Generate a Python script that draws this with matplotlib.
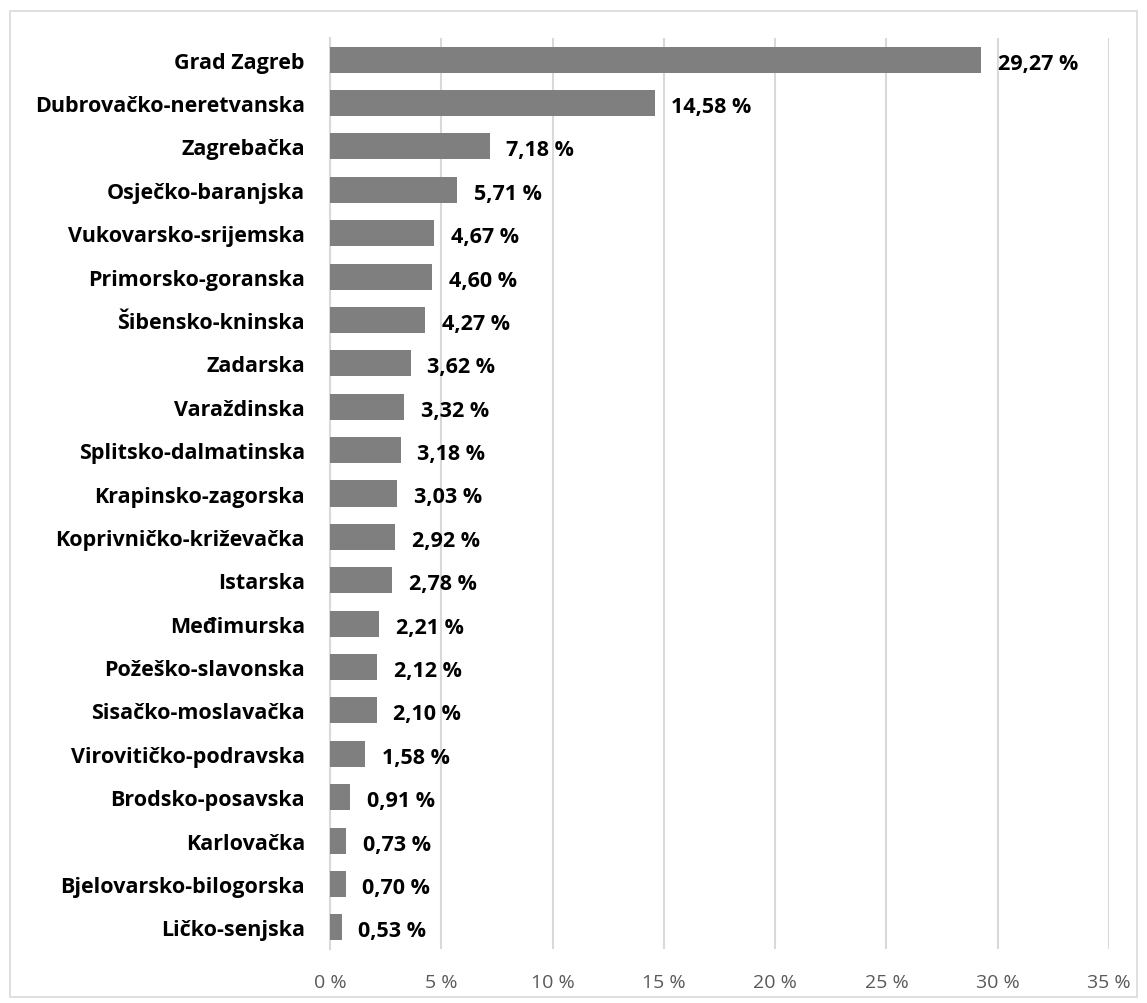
import matplotlib
matplotlib.use("Agg")
import matplotlib.pyplot as plt
from matplotlib.patches import Rectangle

plt.rcParams['font.family'] = ['Open Sans', 'DejaVu Sans']

# Udio po zupanijama (%)
zupanije = [
    "Grad Zagreb", "Dubrovačko-neretvanska", "Zagrebačka", "Osječko-baranjska",
    "Vukovarsko-srijemska", "Primorsko-goranska", "Šibensko-kninska", "Zadarska",
    "Varaždinska", "Splitsko-dalmatinska", "Krapinsko-zagorska",
    "Koprivničko-križevačka", "Istarska", "Međimurska", "Požeško-slavonska",
    "Sisačko-moslavačka", "Virovitičko-podravska", "Brodsko-posavska",
    "Karlovačka", "Bjelovarsko-bilogorska", "Ličko-senjska",
]
udio = [29.27, 14.58, 7.18, 5.71, 4.67, 4.60, 4.27, 3.62, 3.32, 3.18, 3.03,
        2.92, 2.78, 2.21, 2.12, 2.10, 1.58, 0.91, 0.73, 0.70, 0.53]
x_ticks = [0, 5, 10, 15, 20, 25, 30, 35]

W, H = 1147, 1004
fig = plt.figure(figsize=(W / 100, H / 100), dpi=100)
ax = fig.add_axes([330 / W, 1 - 950 / H, (1109 - 330) / W, (950 - 39) / H])

# vanjski okvir grafikona
fig.patches.append(Rectangle((10 / W, 6 / H), (1137 - 10) / W, (1000 - 14) / H,
                             transform=fig.transFigure, fill=False,
                             edgecolor="#d9d9d9", linewidth=1.2))

y = list(range(len(zupanije)))
ax.barh(y, udio, height=0.6, color="#7f7f7f", zorder=3)
for yi, v in zip(y, udio):
    ax.text(v + 0.75, yi + 0.08, f"{v:.2f} %".replace(".", ","), va="center", ha="left",
            fontsize=15.5, fontweight="bold", color="black", zorder=4)

ax.set_xlim(0, 35)
ax.set_ylim(len(zupanije) - 0.5, -0.5)
ax.set_xticks(x_ticks)
ax.set_xticklabels([f"{t} %" for t in x_ticks], color="#595959", fontsize=14)
ax.set_yticks(y)
ax.set_yticklabels(zupanije, fontsize=15.5, fontweight="bold")
ax.tick_params(axis="both", length=0)
ax.tick_params(axis="x", pad=17)
ax.tick_params(axis="y", pad=18)
ax.grid(axis="x", color="#d9d9d9", linewidth=1.5, zorder=0)
for s in ["top", "right", "bottom"]:
    ax.spines[s].set_visible(False)
ax.spines["left"].set_color("#d9d9d9")
ax.spines["left"].set_linewidth(1.5)

fig.savefig("out.png", dpi=100)
